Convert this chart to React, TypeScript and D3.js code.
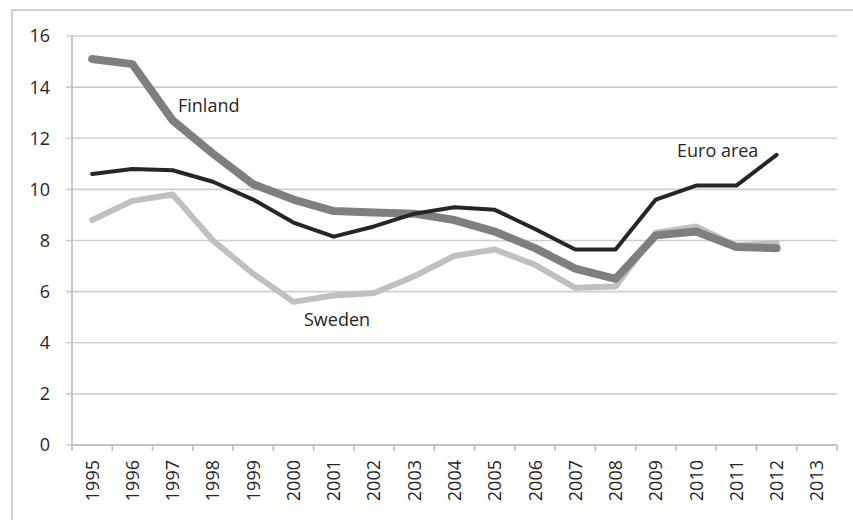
import React from "react";
import * as d3 from "d3";

const years = [
  "1995", "1996", "1997", "1998", "1999", "2000", "2001", "2002", "2003", "2004",
  "2005", "2006", "2007", "2008", "2009", "2010", "2011", "2012", "2013",
];
const finland = [15.1, 14.9, 12.7, 11.4, 10.2, 9.6, 9.15, 9.1, 9.05, 8.8, 8.35, 7.7, 6.9, 6.5, 8.2, 8.35, 7.75, 7.7];
const sweden = [8.8, 9.55, 9.8, 8.0, 6.7, 5.6, 5.85, 5.95, 6.6, 7.4, 7.65, 7.05, 6.15, 6.2, 8.3, 8.55, 7.8, 7.9];
const euroArea = [10.6, 10.8, 10.75, 10.3, 9.6, 8.7, 8.15, 8.55, 9.05, 9.3, 9.2, 8.45, 7.65, 7.65, 9.6, 10.15, 10.15, 11.35];
const yTicks = [0, 2, 4, 6, 8, 10, 12, 14, 16];

const W = 853;
const H = 520;
const plot = { left: 72, right: 837, top: 36, bottom: 445 };
const font = "'Open Sans', 'Liberation Sans', sans-serif";
const textColor = "#262626";

export default function App() {
  const x = d3.scaleBand<string>().domain(years).range([plot.left, plot.right]);
  const y = d3.scaleLinear().domain([0, 16]).range([plot.bottom, plot.top]);
  const cx = (i: number) => (x(years[i]) as number) + x.bandwidth() / 2;
  const line = d3
    .line<number>()
    .x((_, i) => cx(i))
    .y((d) => y(d));

  const series = [
    { data: sweden, color: "#c0c0c0", width: 6 },
    { data: finland, color: "#7f7f7f", width: 8 },
    { data: euroArea, color: "#262626", width: 4 },
  ];

  return (
    <svg width={W} height={H} style={{ position: "absolute", left: 0, top: 0, background: "#fff" }}>
      {/* outer chart frame */}
      <line x1={12} x2={W} y1={10} y2={10} stroke="#d0d0d0" strokeWidth={2} />
      <line x1={12} x2={12} y1={10} y2={H} stroke="#d0d0d0" strokeWidth={2} />
      {yTicks.map((t) => (
        <g key={t}>
          <line x1={plot.left - 6} x2={plot.right} y1={y(t)} y2={y(t)} stroke="#cfcfcf" strokeWidth={1.6} />
          <text x={50} y={y(t)} dy="0.36em" textAnchor="end" fontFamily={font} fontSize={18} fill={textColor}>
            {t}
          </text>
        </g>
      ))}
      <line x1={plot.left} x2={plot.left} y1={plot.top} y2={plot.bottom} stroke="#bdbdbd" strokeWidth={1.6} />
      <line x1={plot.left} x2={plot.right} y1={plot.bottom} y2={plot.bottom} stroke="#bdbdbd" strokeWidth={1.6} />
      {years.map((yr) => (
        <line
          key={"tk" + yr}
          x1={x(yr) as number}
          x2={x(yr) as number}
          y1={plot.bottom}
          y2={plot.bottom + 6}
          stroke="#bdbdbd"
          strokeWidth={1.6}
        />
      ))}
      <line x1={plot.right} x2={plot.right} y1={plot.bottom} y2={plot.bottom + 6} stroke="#bdbdbd" strokeWidth={1.6} />
      {years.map((yr, i) => (
        <text
          key={yr}
          transform={`translate(${cx(i)},${plot.bottom + 15}) rotate(-90)`}
          textAnchor="end"
          dy="0.36em"
          fontFamily={font}
          fontSize={18}
          fill={textColor}
        >
          {yr}
        </text>
      ))}
      {series.map((s, k) => (
        <path
          key={k}
          d={line(s.data) as string}
          fill="none"
          stroke={s.color}
          strokeWidth={s.width}
          strokeLinejoin="round"
          strokeLinecap="round"
        />
      ))}
      <text x={178} y={112} fontFamily={font} fontSize={18} fill={textColor}>Finland</text>
      <text x={304} y={326} fontFamily={font} fontSize={18} fill={textColor}>Sweden</text>
      <text x={677} y={157} fontFamily={font} fontSize={18} fill={textColor}>Euro area</text>
    </svg>
  );
}
